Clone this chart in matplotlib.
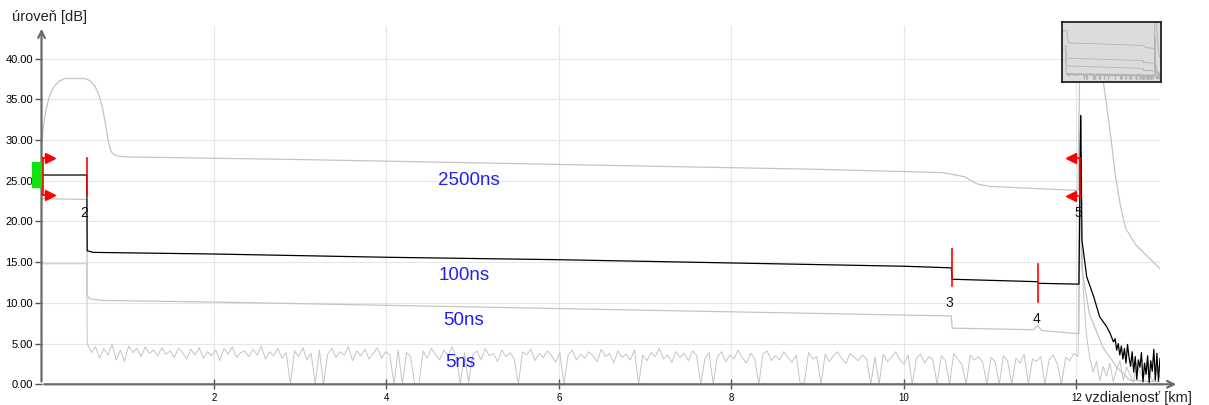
import numpy as np
import matplotlib
matplotlib.use('Agg')
import matplotlib.pyplot as plt

plt.rcParams['font.family'] = ['Liberation Sans', 'DejaVu Sans']

# 2500ns trace (km, dB)
km_2500 = [0.0, 0.02, 0.05, 0.09, 0.14, 0.2, 0.27, 0.5, 0.56, 0.62, 0.67, 0.71, 0.75, 0.78,
           0.81, 0.86, 0.95, 1.1, 3.0, 5.0, 7.0, 9.0, 10.45, 10.7, 10.85, 11.0, 12.02, 12.05,
           12.27, 12.31, 12.39, 12.45, 12.51, 12.57, 12.69, 12.97]
db_2500 = [28.8, 31.5, 33.6, 35.3, 36.5, 37.2, 37.55, 37.55, 37.3, 36.6, 35.4, 33.8, 31.5, 29.6,
           28.5, 28.1, 27.95, 27.9, 27.6, 27.2, 26.8, 26.4, 26.0, 25.5, 24.6, 24.3, 23.8, 48.0,
           48.0, 37.4, 31.2, 25.9, 22.0, 19.2, 17.1, 14.2]

# 100ns trace
km_100 = [0.0, 0.525, 0.53, 0.6, 2.0, 4.0, 6.0, 8.0, 10.0, 10.55, 10.56, 11.55, 11.56,
          12.03, 12.05, 12.055, 12.065, 12.085, 12.12, 12.2, 12.27, 12.35, 12.39, 12.43]
db_100 = [25.7, 25.7, 16.4, 16.2, 16.0, 15.6, 15.3, 14.9, 14.5, 14.3, 12.9, 12.6, 12.4,
          12.3, 33.0, 29.2, 17.7, 16.1, 13.2, 10.8, 8.3, 7.1, 6.3, 5.2]
tail_100 = [5.6, 4.2, 5.0, 3.6, 4.7, 3.1, 4.4, 2.6, 4.9, 3.3, 2.2, 4.0, 1.5, 3.4, 0.6,
            3.0, 2.1, 3.9, 0.3, 2.6, 1.2, 3.5, 0.2, 2.9, 1.6, 4.3, 0.5, 3.8, 0.4, 3.2]

# 50ns trace
km_50 = [0.0, 0.525, 0.53, 0.56, 0.7, 2.0, 4.0, 6.0, 8.0, 10.55, 10.56, 11.5, 11.55, 11.6,
         12.03, 12.045, 12.06, 12.15, 12.31, 12.47, 12.62, 12.97]
db_50 = [22.8, 22.7, 10.9, 10.5, 10.3, 10.1, 9.7, 9.3, 8.9, 8.4, 6.9, 6.7, 7.2, 6.6,
         6.2, 31.0, 14.4, 8.7, 4.5, 2.1, 0.5, 0.3]

# 5ns trace: flat start, then noise floor, then tail after the end reflection
km_5 = [0.0, 0.525]
db_5 = [14.8, 14.8]
noise_5 = [5.0, 3.9, 4.6, 3.2, 4.4, 3.6, 4.9, 3.0, 4.2, 2.8, 4.7, 3.9, 4.4, 3.4, 4.6, 3.8, 4.2, 3.5, 4.5, 3.7,
           4.1, 3.3, 4.4, 3.9, 3.1, 4.3, 3.6, 4.5, 3.2, 4.0, 3.5, 4.2, 2.9, 4.4, 3.7, 4.6, 3.3, 3.9, 4.1, 3.4,
           4.3, 3.6, 4.7, 3.1, 4.0, 3.5, 4.4, 3.2, 3.9, 0.0, 4.1, 3.4, 4.5, 3.0, 3.8, 0.0, 4.2, 0.0, 3.7, 4.4,
           3.3, 4.0, 3.6, 4.6, 2.9, 4.1, 3.5, 4.3, 3.1, 3.8, 4.5, 3.2, 4.0, 3.6, 0.0, 4.2, 0.0, 3.9, 3.4, 0.0,
           0.0, 4.1, 3.2, 4.4, 3.7, 3.0, 4.2, 3.5, 4.6, 3.3, 0.0, 3.9, 0.2, 3.6, 4.1, 3.0, 4.4, 3.5, 3.8, 2.8,
           4.2, 3.4, 3.9, 3.1, 0.0, 4.0, 3.6, 4.3, 2.9, 3.8, 3.3, 4.1, 3.5, 2.7, 3.9, 0.0, 3.6, 4.2, 3.0, 3.7,
           3.2, 4.0, 3.5, 2.8, 4.3, 3.4, 3.8, 2.6, 4.1, 3.3, 3.7, 3.0, 4.2, 0.0, 3.6, 2.9, 3.9, 3.4, 4.4, 3.1,
           3.6, 2.7, 4.0, 3.3, 3.8, 2.9, 4.1, 3.5, 0.0, 3.2, 3.9, 0.0, 3.4, 4.0, 2.8, 3.6, 3.1, 4.2, 3.3, 2.6,
           3.8, 3.2, 0.0, 3.7, 4.1, 2.9, 3.5, 3.0, 4.0, 3.3, 2.7, 3.6, 0.0, 0.3, 3.9, 3.1, 3.4, 0.0, 3.7, 2.8,
           3.5, 4.0, 3.2, 2.6, 3.8, 3.3, 2.9, 3.6, 3.1, 0.0, 3.4, 0.0, 3.7, 2.8, 3.3, 4.0, 3.0, 2.5, 3.6, 0.0,
           3.2, 3.7, 2.6, 3.4, 3.0, 0.0, 3.5, 2.9, 0.0, 3.8, 3.1, 2.4, 0.0, 3.6, 3.0, 3.4, 2.7, 0.0, 3.3, 2.8,
           0.0, 3.5, 2.9, 0.0, 3.2, 2.6, 3.7, 0.0, 3.1, 2.8, 3.4, 0.0, 3.0, 3.6, 2.5, 0.0, 3.3, 2.9, 3.8, 3.4]
tail_5 = [30.0, 12.0, 6.0, 3.2, 1.5, 2.8, 0.4, 2.2, 1.0, 2.6, 0.3, 1.8, 2.9, 0.5, 2.1,
          1.2, 0.2, 2.4, 1.6, 0.6, 2.7, 1.1, 0.3, 1.9, 0.8]

# event markers
mark_km = [0.525, 10.555, 11.555, 12.04]
mark_db = [25.5, 14.35, 12.45, 25.45]
mark_lbl = ['2', '3', '4', '5']
lbl_km = [0.50, 10.53, 11.54, 12.02]

# pulse width labels
pulse_lbl = ['2500ns', '100ns', '50ns', '5ns']
pulse_km = [4.96, 4.90, 4.89, 4.86]
pulse_db = [24.45, 12.8, 7.3, 2.15]

# build full traces
x100 = np.concatenate([km_100, np.linspace(12.45, 12.97, len(tail_100))])
y100 = np.concatenate([db_100, tail_100])
x5 = np.concatenate([km_5, np.linspace(0.53, 12.02, len(noise_5)), np.linspace(12.04, 12.97, len(tail_5))])
y5 = np.concatenate([db_5, noise_5, tail_5])

W, H = 1209, 405
fig = plt.figure(figsize=(W / 100, H / 100), dpi=100)
ax = fig.add_axes([41.5 / W, 20.7 / H, (1160 - 41.5) / W, 358.3 / H])

grey = '#c4c4c4'
ax.plot(x5, y5, color=grey, lw=0.7)
ax.plot(km_50, db_50, color=grey, lw=0.9)
ax.plot(km_2500, db_2500, color=grey, lw=0.9)
ax.plot(x100, y100, color='black', lw=0.9)

ax.set_xlim(0, 12.97)
ax.set_ylim(0, 44)
ax.set_xticks(np.arange(2, 13, 2))
ax.set_xticklabels([str(v) for v in range(2, 13, 2)], fontsize=7)
ax.set_yticks(np.arange(0, 41, 5))
ax.set_yticklabels(['%.2f' % v for v in np.arange(0, 41, 5)], fontsize=8)
ax.grid(True, color='#e6e6e6', lw=0.8)
ax.set_axisbelow(True)
ax.tick_params(axis='x', direction='inout', length=7, width=1, color='#555555', pad=3)
ax.tick_params(axis='y', direction='out', length=5, width=1, color='#555555', pad=1)
for s in ax.spines.values():
    s.set_visible(False)

# axis lines with arrows
ax.annotate('', xy=(1.017, 0), xytext=(0, 0), xycoords='axes fraction',
            arrowprops=dict(arrowstyle='->', color='#6a6a6a', lw=1.6, mutation_scale=12))
ax.annotate('', xy=(0, 1.0), xytext=(0, 0), xycoords='axes fraction',
            arrowprops=dict(arrowstyle='->', color='#6a6a6a', lw=1.6, mutation_scale=12))

fig.text(12 / W, 1 - 17 / H, 'úroveň [dB]', fontsize=10.5, va='center', ha='left', color='#222222')
fig.text(1085 / W, 1 - 398 / H, 'vzdialenosť [km]', fontsize=10.5, va='center', ha='left', color='#222222')

# left marker with green block
ax.add_patch(plt.Rectangle((-0.11, 24.2), 0.11, 3.1, color='#11e011', clip_on=False, zorder=4))
ax.plot([0.012, 0.012], [23.2, 27.8], color='red', lw=1.2, clip_on=False, zorder=5)
for yy in [23.2, 27.8]:
    ax.plot([0.012, 0.07], [yy, yy], color='red', lw=1.2, clip_on=False, zorder=5)
    ax.plot(0.1, yy, marker='>', color='red', ms=6.5, clip_on=False, zorder=5)

# event markers
for k, d, t, lk in zip(mark_km, mark_db, mark_lbl, lbl_km):
    ax.plot([k, k], [d - 2.3, d + 2.3], color='red', lw=1.2, zorder=5)
    ax.text(lk, d - 4.9, t, fontsize=10, ha='center', va='baseline', color='#111111')
# end marker arrows pointing left
for yy in [mark_db[3] - 2.3, mark_db[3] + 2.3]:
    ax.plot([mark_km[3] - 0.07, mark_km[3]], [yy, yy], color='red', lw=1.2, zorder=5)
    ax.plot(mark_km[3] - 0.1, yy, marker='<', color='red', ms=6.5, zorder=5)

for t, k, d in zip(pulse_lbl, pulse_km, pulse_db):
    ax.text(k, d, t, fontsize=13.5, color='#2020f0', ha='center', va='baseline')

# overview inset
ins = fig.add_axes([1062 / W, (H - 82) / H, 99 / W, 60 / H])
ins.set_facecolor('#dcdcdc')
for xx, yy in [(x5, y5), (km_50, db_50), (km_2500, db_2500), (x100, y100)]:
    ins.plot(xx, yy, color='#b2b2b2', lw=0.6)
ins.set_xlim(0, 12.85)
ins.set_ylim(-2, 44)
ins.set_xticks([])
ins.set_yticks([])
for s in ins.spines.values():
    s.set_color('#222222')
    s.set_linewidth(1.3)

fig.savefig('out.png', dpi=100)
